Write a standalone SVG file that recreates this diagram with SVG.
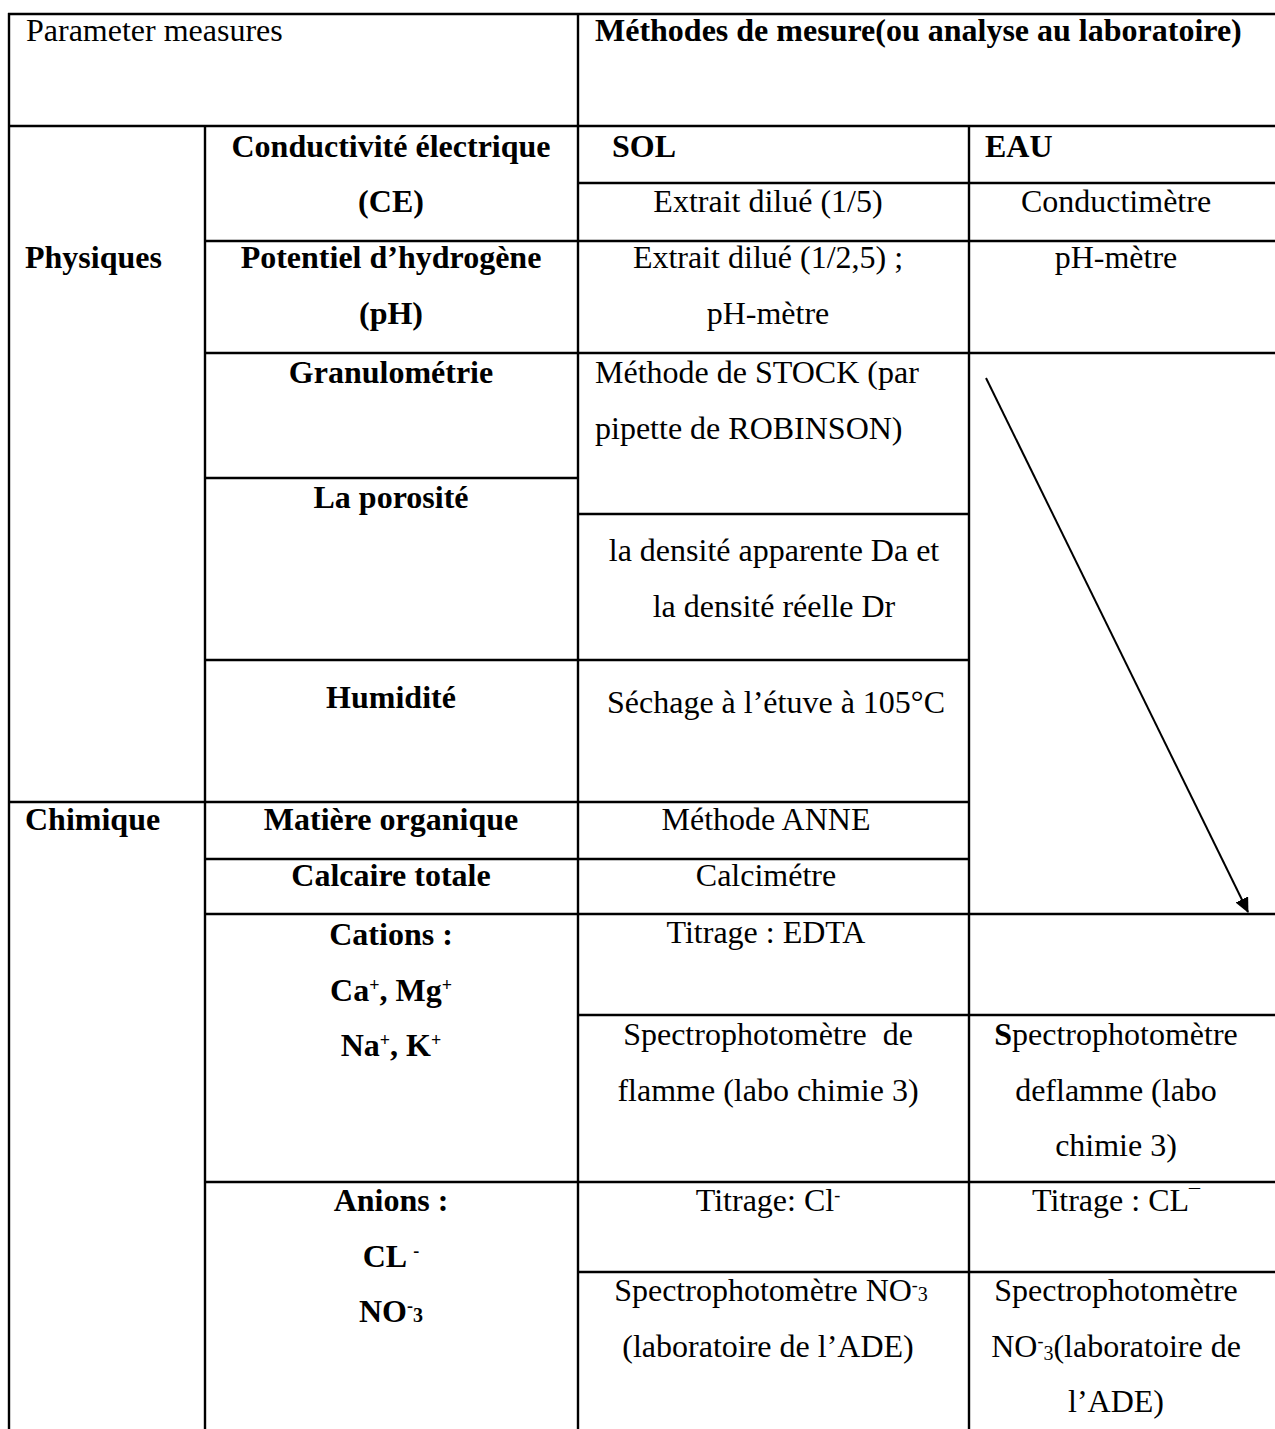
<svg xmlns="http://www.w3.org/2000/svg" width="1275" height="1429" viewBox="0 0 1275 1429">
<style>
text{font-family:"Liberation Serif","Times New Roman",serif;font-size:32px;fill:#000;white-space:pre}
.b{font-weight:bold}
.c{text-anchor:middle}
.sup{font-size:18px;baseline-shift:super}
.sub{font-size:20px}
.sb{font-size:20px;baseline-shift:-3px}
.mac{font-size:22px;baseline-shift:7px}
.grid line{stroke:#000;stroke-width:2.4}
</style>
<defs>
<marker id="ah" markerWidth="16" markerHeight="16" refX="14" refY="7" orient="auto" markerUnits="userSpaceOnUse">
<path d="M0,0 L15,7 L0,14 Z" fill="#000"/>
</marker>
</defs>
<rect width="1275" height="1429" fill="#fff"/>
<g id="grid" class="grid">
<line x1="8" y1="14" x2="1275" y2="14"/>
<line x1="8" y1="126" x2="1275" y2="126"/>
<line x1="578" y1="183" x2="1275" y2="183"/>
<line x1="205" y1="241" x2="1275" y2="241"/>
<line x1="205" y1="353" x2="1275" y2="353"/>
<line x1="205" y1="478" x2="578" y2="478"/>
<line x1="578" y1="514" x2="969" y2="514"/>
<line x1="205" y1="660" x2="969" y2="660"/>
<line x1="8" y1="802" x2="969" y2="802"/>
<line x1="205" y1="859" x2="969" y2="859"/>
<line x1="205" y1="914" x2="1275" y2="914"/>
<line x1="578" y1="1015" x2="1275" y2="1015"/>
<line x1="205" y1="1182" x2="1275" y2="1182"/>
<line x1="578" y1="1272" x2="1275" y2="1272"/>
<line x1="9" y1="13" x2="9" y2="1429"/>
<line x1="205" y1="126" x2="205" y2="1429"/>
<line x1="578" y1="13" x2="578" y2="1429"/>
<line x1="969" y1="126" x2="969" y2="1429"/>
</g>
<g id="connectors">
<line x1="986" y1="378" x2="1248" y2="912" stroke="#000" stroke-width="2" marker-end="url(#ah)"/>
</g>
<g id="header">
<text x="26" y="41">Parameter measures</text>
<text class="b" x="595" y="41">Méthodes de mesure(ou analyse au laboratoire)</text>
<text class="b" x="612" y="157">SOL</text>
<text class="b" x="985" y="157">EAU</text>
</g>
<g id="physiques">
<text class="b" x="25" y="268">Physiques</text>
</g>
<g id="chimique">
<text class="b" x="25" y="830">Chimique</text>
</g>
<g id="ce">
<text class="b c" x="391" y="157">Conductivité électrique</text>
<text class="b c" x="391" y="212">(CE)</text>
<text class="c" x="768" y="212">Extrait dilué (1/5)</text>
<text class="c" x="1116" y="212">Conductimètre</text>
</g>
<g id="ph">
<text class="b c" x="391" y="268">Potentiel d’hydrogène</text>
<text class="b c" x="391" y="324">(pH)</text>
<text class="c" x="768" y="268">Extrait dilué (1/2,5) ;</text>
<text class="c" x="768" y="324">pH-mètre</text>
<text class="c" x="1116" y="268">pH-mètre</text>
</g>
<g id="granulometrie">
<text class="b c" x="391" y="383">Granulométrie</text>
<text x="595" y="383">Méthode de STOCK (par</text>
<text x="595" y="439">pipette de ROBINSON)</text>
</g>
<g id="porosite">
<text class="b c" x="391" y="508">La porosité</text>
<text class="c" x="774" y="561">la densité apparente Da et</text>
<text class="c" x="774" y="617">la densité réelle Dr</text>
</g>
<g id="humidite">
<text class="b c" x="391" y="708">Humidité</text>
<text class="c" x="776" y="713">Séchage à l’étuve à 105°C</text>
</g>
<g id="matiere">
<text class="b c" x="391" y="830">Matière organique</text>
<text class="c" x="766" y="830">Méthode ANNE</text>
</g>
<g id="calcaire">
<text class="b c" x="391" y="886">Calcaire totale</text>
<text class="c" x="766" y="886">Calcimétre</text>
</g>
<g id="cations">
<text class="b c" x="391" y="945">Cations :</text>
<text class="b c" x="391" y="1001">Ca<tspan class="sup">+</tspan>, Mg<tspan class="sup">+</tspan></text>
<text class="b c" x="391" y="1056">Na<tspan class="sup">+</tspan>, K<tspan class="sup">+</tspan></text>
<text class="c" x="766" y="943">Titrage : EDTA</text>
<text class="c" x="768" y="1045">Spectrophotomètre  de</text>
<text class="c" x="768" y="1101">flamme (labo chimie 3)</text>
<text class="c" x="1116" y="1045"><tspan class="b">S</tspan>pectrophotomètre</text>
<text class="c" x="1116" y="1101">deflamme (labo</text>
<text class="c" x="1116" y="1156">chimie 3)</text>
</g>
<g id="anions">
<text class="b c" x="391" y="1211">Anions :</text>
<text class="b c" x="391" y="1267">CL <tspan class="sup">-</tspan></text>
<text class="b c" x="391" y="1322">NO<tspan class="sup">-</tspan><tspan class="sub">3</tspan></text>
<text class="c" x="768" y="1211">Titrage: Cl<tspan class="sup">-</tspan></text>
<text class="c" x="1116" y="1211">Titrage : CL<tspan class="mac">¯</tspan></text>
<text class="c" x="771" y="1301">Spectrophotomètre NO<tspan class="sup">-</tspan><tspan class="sub">3</tspan></text>
<text class="c" x="768" y="1357">(laboratoire de l’ADE)</text>
<text class="c" x="1116" y="1301">Spectrophotomètre</text>
<text class="c" x="1116" y="1357">NO<tspan class="sup">-</tspan><tspan class="sb">3</tspan>(laboratoire de</text>
<text class="c" x="1116" y="1412">l’ADE)</text>
</g>
</svg>
